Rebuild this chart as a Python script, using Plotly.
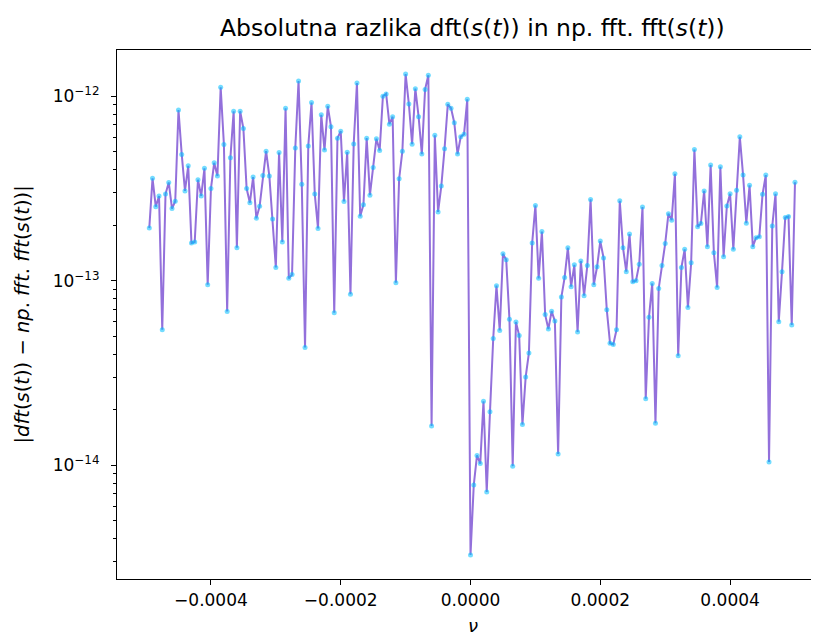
import math
import plotly.graph_objects as go

# frequency axis: 200 samples, step 5e-6, from -99*step to 100*step
NU_STEP = 5e-6
nu = [k * NU_STEP for k in range(-99, 101)]

err = [
    1.93e-13, 3.59e-13, 2.52e-13, 2.88e-13, 5.42e-14, 2.95e-13, 3.41e-13, 2.46e-13, 2.70e-13, 8.43e-13,
    4.84e-13, 3.07e-13, 4.20e-13, 1.60e-13, 1.62e-13, 3.53e-13, 2.88e-13, 4.07e-13, 9.51e-14, 3.16e-13,
    4.36e-13, 3.70e-13, 1.12e-12, 5.48e-13, 6.82e-14, 4.64e-13, 8.30e-13, 1.51e-13, 8.30e-13, 6.69e-13,
    3.16e-13, 2.65e-13, 3.65e-13, 2.18e-13, 2.53e-13, 3.72e-13, 5.04e-13, 3.70e-13, 2.16e-13, 1.18e-13,
    4.95e-13, 1.62e-13, 8.61e-13, 1.03e-13, 1.08e-13, 5.24e-13, 1.21e-12, 3.34e-13, 4.34e-14, 5.37e-13,
    9.25e-13, 2.95e-13, 1.92e-13, 7.94e-13, 5.11e-13, 8.83e-13, 6.84e-13, 6.71e-14, 5.93e-13, 6.47e-13,
    2.69e-13, 4.98e-13, 8.45e-14, 5.52e-13, 1.18e-12, 2.24e-13, 2.58e-13, 5.93e-13, 2.91e-13, 4.11e-13,
    5.89e-13, 5.08e-13, 1.00e-12, 1.03e-12, 7.06e-13, 7.75e-13, 9.75e-14, 3.57e-13, 5.04e-13, 1.32e-12,
    9.08e-13, 5.50e-13, 1.10e-12, 7.75e-13, 4.86e-13, 1.09e-12, 1.30e-12, 1.63e-14, 6.15e-13, 2.36e-13,
    3.26e-13, 5.20e-13, 9.05e-13, 8.61e-13, 7.19e-13, 4.86e-13, 6.04e-13, 6.23e-13, 9.63e-13, 3.26e-15,
    7.80e-15, 1.13e-14, 1.02e-14, 2.22e-14, 7.15e-15, 1.95e-14, 4.86e-14, 9.40e-14, 5.37e-14, 1.40e-13,
    1.30e-13, 6.19e-14, 9.88e-15, 5.97e-14, 5.04e-14, 1.66e-14, 3.01e-14, 4.06e-14, 1.60e-13, 2.56e-13,
    1.03e-13, 1.85e-13, 6.55e-14, 5.47e-14, 6.84e-14, 6.04e-14, 1.15e-14, 8.15e-14, 1.04e-13, 1.51e-13,
    9.28e-14, 1.22e-13, 5.27e-14, 1.28e-13, 8.30e-14, 1.21e-13, 2.76e-13, 9.51e-14, 1.19e-13, 1.64e-13,
    1.33e-13, 6.95e-14, 4.58e-14, 4.51e-14, 5.42e-14, 2.71e-13, 1.51e-13, 1.12e-13, 1.79e-13, 9.88e-14,
    1.00e-13, 1.23e-13, 2.51e-13, 2.29e-14, 6.33e-14, 9.67e-14, 1.69e-14, 9.08e-14, 1.21e-13, 1.59e-13,
    2.31e-13, 2.13e-13, 3.80e-13, 3.92e-14, 1.18e-13, 1.48e-13, 7.17e-14, 1.25e-13, 5.15e-13, 1.96e-13,
    2.04e-13, 3.07e-13, 1.53e-13, 4.24e-13, 1.42e-13, 9.20e-14, 4.15e-13, 1.35e-13, 2.54e-13, 2.96e-13,
    1.48e-13, 3.09e-13, 6.03e-13, 3.74e-13, 2.05e-13, 3.29e-13, 1.53e-13, 1.71e-13, 1.73e-13, 2.94e-13,
    3.74e-13, 1.04e-14, 1.98e-13, 2.96e-13, 6.00e-14, 1.12e-13, 2.20e-13, 2.23e-13, 5.76e-14, 3.42e-13,
]

x_tickvals = [-0.0004, -0.0002, 0.0, 0.0002, 0.0004]
x_ticktext = ["\u22120.0004", "\u22120.0002", "0.0000", "0.0002", "0.0004"]
y_tickvals = [1e-14, 1e-13, 1e-12]
y_ticktext = ["10<sup>\u221214</sup>", "10<sup>\u221213</sup>", "10<sup>\u221212</sup>"]

title_text = "Absolutna razlika dft(<i>s</i>(<i>t</i>)) in np. fft. fft(<i>s</i>(<i>t</i>))"
ylabel_text = ("|<i>dft</i>(<i>s</i>(<i>t</i>)) \u2212 <i>np</i>. <i>fft</i>. "
               "<i>fft</i>(<i>s</i>(<i>t</i>))|")
xlabel_text = "<i>\u03bd</i>"

FONT = "DejaVu Sans"

# axis ranges like matplotlib's 5% margins (right side cropped in the reference)
lo, hi = math.log10(min(err)), math.log10(max(err))
span = hi - lo
y_range = [lo - 0.05 * span, hi + 0.05 * span]
xspan = nu[-1] - nu[0]
x_range = [nu[0] - 0.05 * xspan, 0.000537]

minor_vals = [m * 10.0 ** e for e in range(-16, -10) for m in range(2, 10)]

PW, PH = 702, 529  # plot area size in px

fig = go.Figure()
fig.add_trace(go.Scatter(
    x=nu, y=err, mode="lines",
    line=dict(color="#9370DB", width=2),
    hoverinfo="skip", showlegend=False,
))
fig.add_trace(go.Scatter(
    x=nu, y=err, mode="markers",
    marker=dict(color="rgba(0,191,255,0.55)", size=5, line=dict(width=0)),
    showlegend=False,
))

fig.update_layout(
    width=811, height=630,
    margin=dict(l=109, r=0, t=42, b=59),
    paper_bgcolor="white", plot_bgcolor="white",
    font=dict(family=FONT, color="black", size=17),
    showlegend=False,
    xaxis=dict(
        range=x_range, tickvals=x_tickvals, ticktext=x_ticktext,
        showgrid=False, zeroline=False,
        showline=True, linecolor="black", linewidth=1.2, mirror=True,
        ticks="outside", ticklen=5, tickwidth=1.2, tickcolor="black",
        tickfont=dict(family=FONT, size=17),
    ),
    yaxis=dict(
        type="log", range=y_range, tickvals=y_tickvals, ticktext=y_ticktext,
        showgrid=False, zeroline=False,
        showline=True, linecolor="black", linewidth=1.2, mirror=False,
        ticks="outside", ticklen=5, tickwidth=1.2, tickcolor="black",
        tickfont=dict(family=FONT, size=17), ticklabelstandoff=8,
        minor=dict(tickvals=minor_vals, ticks="outside", ticklen=3,
                   tickwidth=1, tickcolor="black", showgrid=False),
    ),
    annotations=[
        dict(text=title_text, xref="paper", yref="paper",
             x=(472.5 - 117) / PW, y=1 + 22 / PH, xanchor="center", yanchor="middle",
             showarrow=False, font=dict(family=FONT, size=23.5)),
        dict(text=ylabel_text, xref="paper", yref="paper",
             x=(22 - 117) / PW, y=0.5, xanchor="center", yanchor="middle",
             textangle=-90, showarrow=False, font=dict(family=FONT, size=19.5)),
        dict(text=xlabel_text, xref="paper", yref="paper",
             x=(472.5 - 117) / PW, y=-(625 - 579) / PH, xanchor="center", yanchor="middle",
             showarrow=False, font=dict(family=FONT, size=18)),
    ],
)

fig.write_html("out.html")
